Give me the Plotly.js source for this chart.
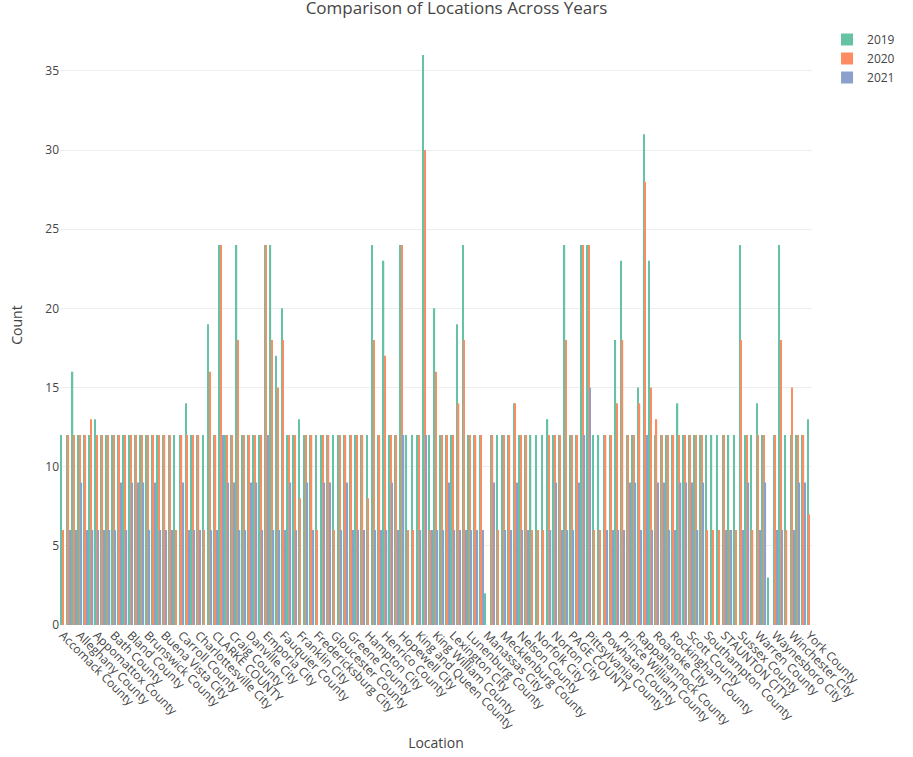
<!DOCTYPE html>
<html>
<head>
<meta charset="utf-8">
<script src="https://cdn.plot.ly/plotly-3.0.1.min.js"></script>
<style>body{margin:0;} #chart{width:913px;height:757px;}</style>
</head>
<body>
<div id="chart"></div>
<script>
let locations = [
 "Accomack County","Albemarle County","Alexandria City","Alleghany County","Amelia County","Amherst County",
 "Appomattox County","Arlington County","Augusta County","Bath County","Bedford City","Bedford County",
 "Bland County","Botetourt County","Bristol City","Brunswick County","Buchanan County","Buckingham County",
 "Buena Vista City","Campbell County","Caroline County","Carroll County","Charles City County","Charlotte County",
 "Charlottesville City","Chesapeake City","Chesterfield County","CLARKE COUNTY","Colonial Heights City","Covington City",
 "Craig County","Culpeper County","Cumberland County","Danville City","Dickenson County","Dinwiddie County",
 "Emporia City","Essex County","Fairfax County","Fauquier County","Floyd County","Fluvanna County",
 "Franklin City","Franklin County","Frederick County","Fredericksburg City","Galax City","Giles County",
 "Gloucester County","Goochland County","Grayson County","Greene County","Greensville County","Halifax County",
 "Hampton City","Hanover County","Harrisonburg City","Henrico County","Henry County","Highland County",
 "Hopewell City","Isle of Wight County","James City County","King and Queen County","King George County","King George Town",
 "King William County","Lancaster County","Lee County","Lexington City","Loudoun County","Louisa County",
 "Lunenburg County","Lynchburg City","Madison County","Manassas City","Manassas Park City","Martinsville City",
 "Mecklenburg County","Middlesex County","Montgomery County","Nelson County","New Kent County","Newport News City",
 "Norfolk City","Northampton County","Northumberland County","Norton City","Nottoway County","Orange County",
 "PAGE COUNTY","Patrick County","Petersburg City","Pittsylvania County","Poquoson City","Portsmouth City",
 "Powhatan County","Prince Edward County","Prince George County","Prince William County","Pulaski County","Radford City",
 "Rappahannock County","Richmond City","Richmond County","Roanoke City","Roanoke County","Rockbridge County",
 "Rockingham County","Russell County","Salem City","Scott County","Shenandoah County","Smyth County",
 "Southampton County","Spotsylvania County","Stafford County","STAUNTON CITY","Suffolk City","Surry County",
 "Sussex County","Tazewell County","Virginia Beach City","Warren County","Warrenton Town","Washington County",
 "Waynesboro City","Westmoreland County","Williamsburg City","Winchester City","Wise County","Wythe County",
 "York County"
];

let count_2019 = [
 12,12,16,12,12,12,13,12,12,12,12,12,12,12,12,12,12,12,12,12,12,12,
 14,12,12,12,19,12,24,12,12,24,12,12,12,12,24,24,17,20,12,12,13,12,
 12,12,12,12,12,12,12,12,12,12,12,24,12,23,12,12,24,12,12,12,36,12,20,
 12,12,12,19,24,12,12,12,2,12,12,12,12,14,12,12,12,12,12,13,12,12,
 24,12,12,24,24,12,12,12,12,18,23,12,12,15,31,23,12,12,12,12,14,12,
 12,12,12,12,12,12,12,12,12,24,12,12,14,12,3,12,24,12,12,12,12,13
];

let count_2020 = [
 6,12,12,12,12,13,12,12,12,12,12,12,12,12,12,12,12,12,12,12,6,12,
 12,12,12,6,16,12,24,12,12,18,12,12,12,12,24,18,15,18,12,12,8,12,
 12,6,12,12,6,12,12,12,12,12,8,18,12,17,12,12,24,6,6,12,30,6,16,
 12,12,12,14,18,12,12,12,0,12,6,12,12,14,12,12,6,6,6,12,12,12,
 18,12,12,24,24,6,6,12,12,14,18,12,12,14,28,15,13,12,12,12,12,12,
 12,12,12,6,6,6,12,6,6,18,12,6,12,12,0,12,18,6,15,12,12,7
];

let count_2021 = [
 0,6,6,9,6,6,6,6,6,6,9,6,9,9,9,6,9,6,6,6,0,9,
 6,6,6,0,6,6,12,9,9,6,6,9,9,6,12,6,6,6,9,6,0,9,
 6,0,9,9,0,6,9,6,6,6,0,6,6,6,9,6,12,0,0,6,12,6,6,
 6,9,6,6,6,6,6,6,0,9,0,6,6,9,6,6,0,0,0,6,9,6,
 6,6,9,12,15,0,0,6,6,6,6,9,9,6,12,6,9,9,6,6,9,9,
 9,6,9,0,0,0,6,6,0,6,9,0,6,9,0,6,6,0,6,9,9,0
];

let years = ["2019", "2020", "2021"];
let colors = ["#66c2a5", "#fc8d62", "#8da0cb"];
let series = [count_2019, count_2020, count_2021];

let data = years.map(function(y, k) {
    return {
        type: 'bar',
        name: y,
        x: locations,
        y: series[k],
        marker: { color: colors[k] }
    };
});

let layout = {
    width: 913,
    height: 757,
    barmode: 'group',
    bargap: 0.2,
    bargroupgap: 0.15,
    font: { family: '"Open Sans", Arial, sans-serif', size: 12, color: '#444' },
    title: { text: 'Comparison of Locations Across Years', x: 0.5, xanchor: 'center', y: 0.997, yanchor: 'top', font: { size: 17 } },
    margin: { l: 60, r: 101, t: 25, b: 132 },
    xaxis: { title: { text: 'Location', standoff: 4 }, tickangle: 45, type: 'category' },
    yaxis: { title: { text: 'Count' }, gridcolor: '#eee', zeroline: false },
    legend: { x: 1.02, y: 1, xanchor: 'left', yanchor: 'top' },
    plot_bgcolor: '#fff',
    paper_bgcolor: '#fff'
};

Plotly.newPlot('chart', data, layout, { displayModeBar: false });
</script>
</body>
</html>
